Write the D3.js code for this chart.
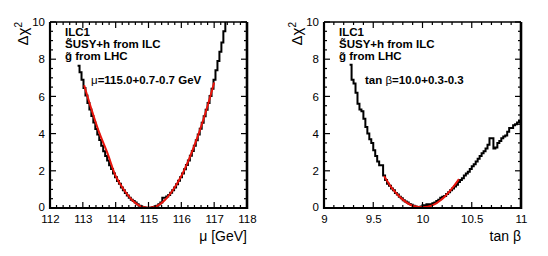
<!DOCTYPE html>
<html><head><meta charset="utf-8">
<script src="https://cdn.jsdelivr.net/npm/d3@7"></script>
<style>
body{margin:0;background:#fff;}
svg text{font-family:"Liberation Sans",Arial,Helvetica,sans-serif;}
</style></head>
<body><svg id="c" width="548" height="256"></svg>
<script>
// ---- data ----
const muBinLow = 112.84, muBinWidth = 0.06;
const muChi2 = [7.65,7.3,6.9,6.45,6.05,5.65,5.3,4.95,4.6,4.25,3.95,3.65,3.35,3.05,2.8,2.55,2.3,2.1,1.85,1.65,
 1.45,1.3,1.1,0.95,0.8,0.67,0.55,0.45,0.38,0.3,0.2,0.12,0.07,0.04,0.02,0.0,0.0,0.02,0.05,0.08,
 0.12,0.2,0.3,0.55,0.55,0.62,0.7,0.82,0.95,1.1,1.28,1.46,1.65,1.86,2.08,2.31,2.55,2.81,3.07,3.35,
 3.64,3.95,4.26,4.59,4.93,5.28,5.65,6.02,6.41,6.9,7.4,7.9,8.4,8.9,9.5,10.5];
const muFitX = [113.04,113.3,113.5,113.75,114.0,114.25,114.5,114.75,115.0,115.25,115.5,115.75,116.0,116.25,116.5,116.75,117.0];
const muFitY = [6.6,5.1,4.05,2.95,1.72,0.98,0.43,0.1,0.02,0.1,0.43,0.98,1.72,2.7,3.85,5.2,6.75];

const tbBinLow = 9.26, tbBinWidth = 0.02;
const tbChi2 = [7.7,6.9,6.7,6.2,5.6,5.3,5.2,4.8,4.35,4.0,3.7,3.5,3.1,2.8,2.5,2.3,2.3,1.75,1.5,1.3,
 1.2,1.05,0.95,0.8,0.72,0.6,0.52,0.42,0.35,0.3,0.22,0.17,0.12,0.08,0.06,0.05,0.08,0.15,0.1,0.2,
 0.15,0.2,0.25,0.3,0.38,0.45,0.55,0.6,0.65,0.75,0.85,0.95,1.05,1.15,1.25,1.4,1.5,1.6,1.75,1.85,
 1.95,2.1,2.25,2.35,2.5,2.65,2.8,2.95,3.05,3.2,3.4,3.75,3.75,3.2,3.25,3.5,3.6,3.75,3.85,3.9,
 4.1,4.3,4.3,4.45,4.5,4.6,4.7];
const tbFitX = [9.61,9.7,9.8,9.9,10.0,10.1,10.2,10.3,10.37];
const tbFitY = [1.72,1.0,0.45,0.12,0.04,0.14,0.48,1.05,1.55];

const muTicks = [112,113,114,115,116,117,118];
const tbTicks = [9,9.5,10,10.5,11];
const yTicks = [0,2,4,6,8,10];
const legendLines = ["ILC1","S\u0303USY+h from ILC","g\u0303 from LHC"];

// ---- drawing ----
const svg = d3.select("#c");
const Y0 = 208, Y1 = 22;

function panel(opts){
  const x = d3.scaleLinear().domain(opts.xDomain).range([opts.x0, opts.x1]);
  const y = d3.scaleLinear().domain([0,10]).range([Y0, Y1]);
  const g = svg.append("g");
  const cid = "clip" + opts.id;
  svg.append("clipPath").attr("id", cid).append("rect")
    .attr("x", opts.x0).attr("y", Y1).attr("width", opts.x1-opts.x0).attr("height", Y0-Y1);

  // histogram
  const pts = opts.vals.map((v,i)=>[opts.binLow + i*opts.binWidth, v]);
  pts.push([opts.binLow + opts.vals.length*opts.binWidth, opts.vals[opts.vals.length-1]]);
  const line = d3.line().x(d=>x(d[0])).y(d=>y(d[1])).curve(d3.curveStepAfter);
  g.append("path").attr("d", line(pts)).attr("fill","none").attr("stroke","#000")
    .attr("stroke-width",2).attr("clip-path","url(#"+cid+")");
  // fit
  const fitPts = opts.fitX.map((v,i)=>[v, opts.fitY[i]]);
  g.append("path").attr("d", d3.line().x(d=>x(d[0])).y(d=>y(d[1])).curve(d3.curveCatmullRom)(fitPts))
    .attr("fill","none").attr("stroke","#e8140c").attr("stroke-width",2);

  // axes
  const bottom = d3.axisBottom(x).tickValues(opts.ticks).tickSize(0).tickPadding(7)
    .tickFormat(opts.fmt);
  const ax = g.append("g").attr("transform","translate(0,"+Y0+")").call(bottom);
  ax.select(".domain").remove();
  ax.selectAll("text").attr("font-size","11.5px").attr("fill","#000");

  const left = d3.axisLeft(y).tickValues(yTicks).tickSize(0).tickPadding(5);
  const ay = g.append("g").attr("transform","translate("+opts.x0+",0)").call(left);
  ay.select(".domain").remove();
  ay.selectAll("text").attr("font-size","11.5px").attr("fill","#000");
  ay.selectAll(".tick").filter(d=>d===0).select("text").attr("dy","0.2em");

  // ticks (inside)
  const minor = d3.range(opts.xDomain[0], opts.xDomain[1]+1e-9, opts.minorStep);
  minor.forEach(v=>{
    const isMajor = opts.majorTicks.some(t=>Math.abs(t-v)<1e-6);
    const len = isMajor ? 6 : 3;
    g.append("line").attr("x1",x(v)).attr("x2",x(v)).attr("y1",Y0).attr("y2",Y0-len).attr("stroke","#000").attr("stroke-width",1.2);
    g.append("line").attr("x1",x(v)).attr("x2",x(v)).attr("y1",Y1).attr("y2",Y1+len).attr("stroke","#000").attr("stroke-width",1.2);
  });
  d3.range(0,10.001,0.5).forEach(v=>{
    const isMajor = Math.abs(v/2-Math.round(v/2))<1e-6;
    const len = isMajor ? 6 : 3;
    g.append("line").attr("x1",opts.x0).attr("x2",opts.x0+len).attr("y1",y(v)).attr("y2",y(v)).attr("stroke","#000").attr("stroke-width",1.2);
    g.append("line").attr("x1",opts.x1).attr("x2",opts.x1-len).attr("y1",y(v)).attr("y2",y(v)).attr("stroke","#000").attr("stroke-width",1.2);
  });

  // frame
  g.append("line").attr("x1",opts.x0).attr("x2",opts.x1).attr("y1",Y1).attr("y2",Y1).attr("stroke","#000").attr("stroke-width",1.3);
  g.append("line").attr("x1",opts.x0-1).attr("x2",opts.x1+1).attr("y1",Y0).attr("y2",Y0).attr("stroke","#000").attr("stroke-width",2.2);
  g.append("line").attr("x1",opts.x0).attr("x2",opts.x0).attr("y1",Y1).attr("y2",Y0+1).attr("stroke","#000").attr("stroke-width",2.2);
  g.append("line").attr("x1",opts.x1).attr("x2",opts.x1).attr("y1",Y1).attr("y2",Y0+1).attr("stroke","#000").attr("stroke-width",2.6);

  // titles
  const xt = g.append("text").attr("x",opts.x1).attr("y",241).attr("text-anchor","end").attr("font-size","14px");
  opts.xTitle(xt);
  const yt = g.append("text").attr("transform","translate("+(opts.x0-22)+","+Y1+") rotate(-90)")
    .attr("text-anchor","end").attr("font-size","15px");
  yt.append("tspan").text("\u0394\u03c7");
  yt.append("tspan").attr("font-size","10px").attr("dy",-6).text("2");

  // legend
  legendLines.forEach((s,i)=>{
    g.append("text").attr("x",opts.x0+15).attr("y",36+12*i).attr("font-size","11.5px").attr("font-weight","bold").text(s);
  });
  const r = g.append("text").attr("x",opts.x0+opts.resDx).attr("y",84).attr("font-size","11.5px").attr("font-weight","bold");
  opts.result(r);
}

panel({id:"mu", xDomain:[112,118], x0:50, x1:247, vals:muChi2, binLow:muBinLow, binWidth:muBinWidth,
  fitX:muFitX, fitY:muFitY, ticks:muTicks, majorTicks:muTicks, minorStep:0.2, fmt:d3.format("d"),
  resDx:41,
  xTitle:t=>{ t.append("tspan").text("\u03bc [GeV]"); },
  result:t=>{ t.append("tspan").attr("font-weight","normal").text("\u03bc"); t.append("tspan").text("=115.0+0.7-0.7 GeV"); }
});
panel({id:"tb", xDomain:[9,11], x0:324, x1:521, vals:tbChi2, binLow:tbBinLow, binWidth:tbBinWidth,
  fitX:tbFitX, fitY:tbFitY, ticks:tbTicks, majorTicks:tbTicks, minorStep:0.1, fmt:d=>String(d),
  resDx:41,
  xTitle:t=>{ t.append("tspan").text("tan \u03b2"); },
  result:t=>{ t.append("tspan").text("tan "); t.append("tspan").attr("font-weight","normal").text(" \u03b2"); t.append("tspan").text("=10.0+0.3-0.3"); }
});
</script></body></html>
